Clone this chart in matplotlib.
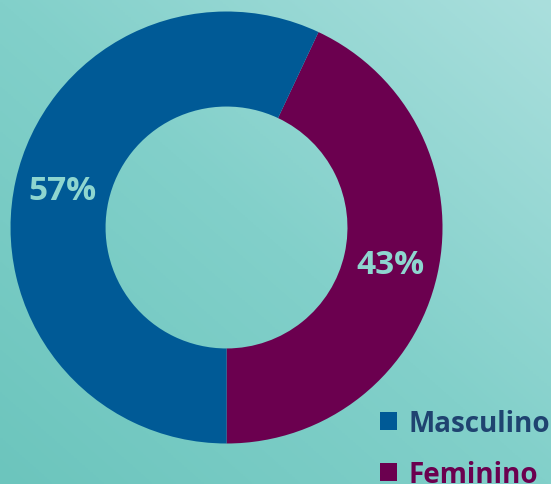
import numpy as np
from matplotlib import pyplot as plt
from matplotlib.colors import LinearSegmentedColormap

# data
labels = ["Feminino", "Masculino"]
values = [43, 57]
colours = ["#6B004F", "#005A96"]
text_colours = ["#6B004F", "#1F4370"]

plt.rcParams['font.family'] = ['Open Sans', 'DejaVu Sans']

fig = plt.figure(figsize=(5.51, 4.85), dpi=100)

# teal gradient background
bg = fig.add_axes([0, 0, 1, 1], zorder=0)
xx, yy = np.meshgrid(np.linspace(0, 1, 200), np.linspace(0, 1, 200))
grad = (xx + yy) / 2
cmap = LinearSegmentedColormap.from_list("bg", ["#6CC5BD", "#82D0CA", "#AADFDD"])
bg.imshow(grad, cmap=cmap, origin='lower', extent=[0, 1, 0, 1], aspect='auto')
bg.axis('off')

# donut
ax = fig.add_axes([0.0191, 0.0835, 0.784, 0.8907], zorder=1)
wedges, texts, autotexts = ax.pie(values, colors=colours, startangle=-90,
    counterclock=True, radius=1, autopct='%1.0f%%', pctdistance=0.78,
    wedgeprops=dict(width=0.44, linewidth=0),
    textprops=dict(color="#8ED6CF", fontsize=24, fontweight='bold'))
ax.set_xlim(-1, 1)
ax.set_ylim(-1, 1)
ax.set_aspect('equal')

# legend, Masculino first
leg = fig.legend([wedges[1], wedges[0]], [labels[1], labels[0]],
    loc='upper left', frameon=False,
    fontsize=20, handlelength=0.62, handleheight=0.62, handletextpad=0.4,
    labelspacing=0.8, borderaxespad=0, borderpad=0)
leg.set_bbox_to_anchor((0.69, 0.155), transform=fig.transFigure)
for t, c in zip(leg.get_texts(), [text_colours[1], text_colours[0]]):
    t.set_color(c)
    t.set_fontweight('bold')

fig.savefig("out.png", dpi=100)
